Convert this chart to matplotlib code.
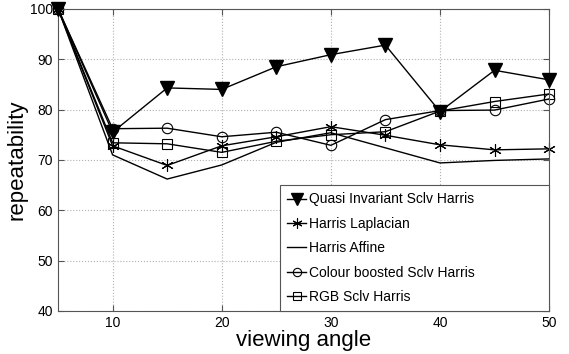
import numpy as np
import matplotlib.pyplot as plt

plt.rcParams['font.family'] = ['Liberation Sans', 'DejaVu Sans']

angle = [5, 10, 15, 20, 25, 30, 35, 40, 45, 50]
quasi = [100, 75.5, 84.3, 84.0, 88.5, 90.9, 92.8, 79.6, 87.8, 85.9]
laplacian = [100, 72.8, 68.9, 72.8, 74.6, 76.6, 74.9, 73.0, 72.0, 72.2]
affine = [100, 71.0, 66.2, 69.0, 73.5, 75.4, 72.4, 69.4, 69.9, 70.2]
colour = [100, 76.2, 76.3, 74.6, 75.5, 72.9, 78.0, 79.8, 79.9, 82.1]
rgb = [100, 73.4, 73.2, 71.5, 73.7, 75.0, 75.6, 79.7, 81.6, 83.1]

fig = plt.figure(figsize=(5.69, 3.54), dpi=100)
ax = fig.add_axes([0.102, 0.1215, 0.863, 0.8535])

ax.plot(angle, quasi, color='black', lw=1, marker='v', ms=10, mfc='black',
        label='Quasi Invariant Sclv Harris', clip_on=False, zorder=5)
ax.plot(angle, laplacian, color='black', lw=1, marker=(6, 2, 0), ms=9,
        mew=0.8, label='Harris Laplacian', clip_on=False)
ax.plot(angle, affine, color='black', lw=1, label='Harris Affine',
        clip_on=False)
ax.plot(angle, colour, color='black', lw=1, marker='o', ms=7.5, mfc='none',
        mew=0.8, label='Colour boosted Sclv Harris', clip_on=False)
ax.plot(angle, rgb, color='black', lw=1, marker='s', ms=6.5, mfc='none',
        mew=0.8, label='RGB Sclv Harris', clip_on=False)

ax.set_xlim(5, 50)
ax.set_ylim(40, 100)
ax.set_xticks([10, 20, 30, 40, 50])
ax.set_yticks([40, 50, 60, 70, 80, 90, 100])
ax.grid(True, color='#b0b0b0', ls=':', lw=0.8)
ax.tick_params(direction='in', top=True, right=True, labelsize=10,
               color='#555555', length=4)
for s in ax.spines.values():
    s.set_color('#555555')

ax.set_xlabel('viewing angle', fontsize=16, labelpad=0)
ax.set_ylabel('repeatability', fontsize=16, labelpad=2)

leg = ax.legend(loc='lower left', bbox_to_anchor=(0.452, 0, 0.548, 0.42),
                mode='expand', fontsize=10, fancybox=False, framealpha=1,
                edgecolor='#555555', borderaxespad=0, handlelength=1.4,
                labelspacing=0.75, borderpad=0.5, handletextpad=0.2,
                markerscale=0.8)
leg.get_frame().set_linewidth(0.8)
leg.set_zorder(10)

fig.savefig('out.png', dpi=100)
